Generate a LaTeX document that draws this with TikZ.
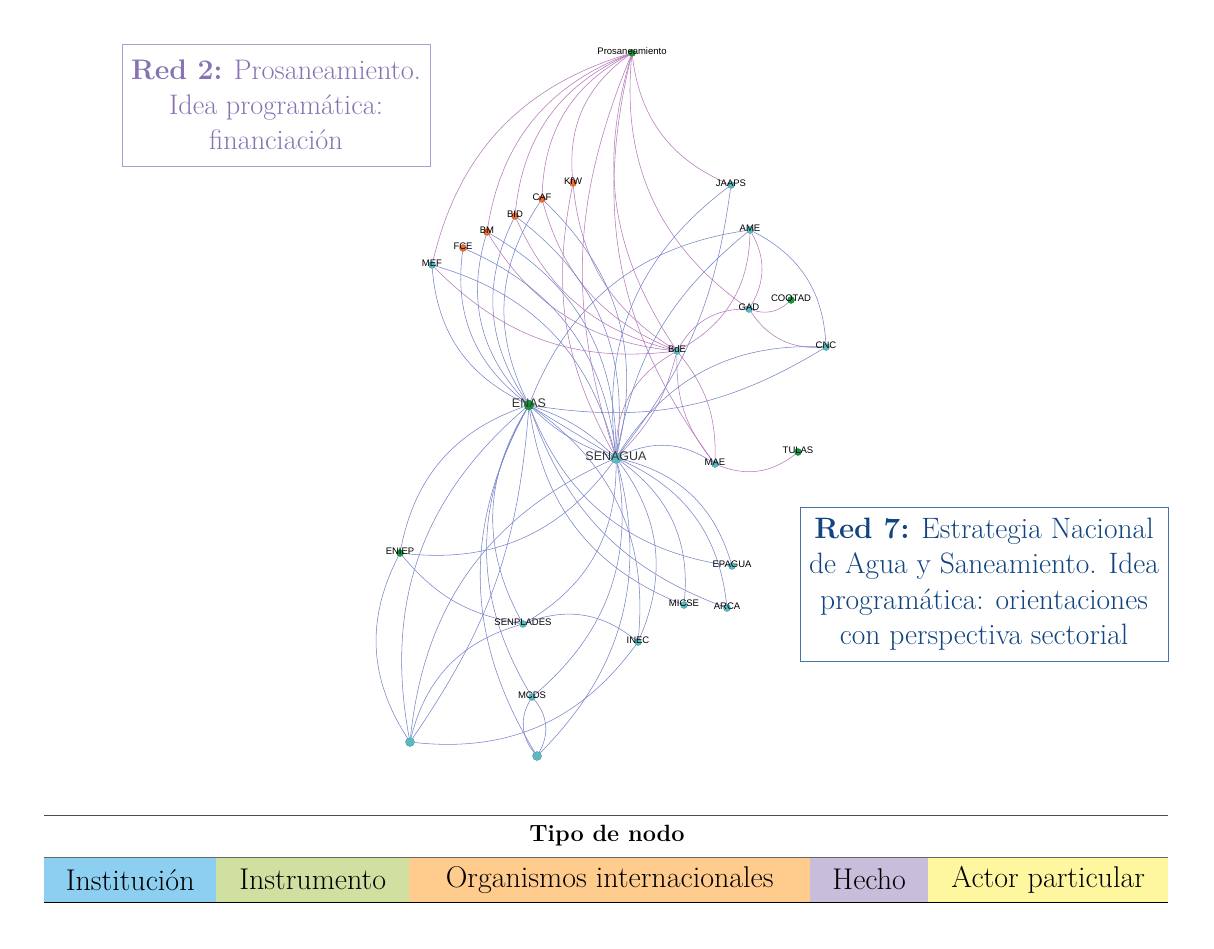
\documentclass[tikz,border=0pt]{standalone}
\usepackage{fontspec}
\newfontfamily\arialf{Liberation Sans}
\usetikzlibrary{backgrounds}
\definecolor{tealn}{RGB}{90,186,194}
\definecolor{greenn}{RGB}{22,150,62}
\definecolor{orangen}{RGB}{236,110,55}
\definecolor{edgeB}{RGB}{118,132,200}
\definecolor{edgeP}{RGB}{180,122,186}
\definecolor{boxP}{RGB}{170,158,208}
\definecolor{txtP}{RGB}{135,115,178}
\definecolor{boxB}{RGB}{72,115,165}
\definecolor{txtB}{RGB}{18,68,128}
\definecolor{legA}{RGB}{140,207,240}
\definecolor{legB}{RGB}{207,224,160}
\definecolor{legC}{RGB}{255,204,142}
\definecolor{legD}{RGB}{200,190,220}
\definecolor{legE}{RGB}{255,247,160}
\tikzset{
  nd/.style={circle, inner sep=0pt, minimum size=7pt, fill=#1, draw=#1!75!black, line width=0.3pt},
  ndbig/.style={nd=#1, minimum size=10pt},
  lab/.style={font=\arialf\fontsize{9.5}{10}\selectfont, text=black, inner sep=0pt, yshift=1.5pt},
  labbig/.style={font=\arialf\fontsize{12.5}{13}\selectfont, text=black!80, inner sep=0pt, yshift=2pt},
  eP/.style={draw=edgeP, line width=0.55pt, bend left=30},
  eB/.style={draw=edgeB, line width=0.55pt, bend left=30},
  redbox/.style={draw=#1, line width=0.8pt, align=center, inner sep=0pt,
     font=\fontsize{29.5}{35.5}\selectfont},
  legcell/.style={fill=#1, draw=none, inner sep=0pt, minimum height=45pt, anchor=north west},
  legtxt/.style={font=\fontsize{30}{32}\selectfont, inner sep=0pt},
  rule/.style={draw=black!70, line width=0.9pt}
}
\begin{document}
\begin{tikzpicture}[x=1pt,y=-1pt]
\useasboundingbox (0,0) rectangle (1214,949);

% ---------- nodes ----------
\node[nd=greenn, label={[lab]center:Prosaneamiento}] (P) at (632,53) {};
\node[nd=orangen, label={[lab]center:KfW}] (KfW) at (573,183) {};
\node[nd=orangen, label={[lab]center:CAF}] (CAF) at (542,199) {};
\node[nd=orangen, label={[lab]center:BID}] (BID) at (515,216) {};
\node[nd=orangen, label={[lab]center:BM}] (BM) at (487,232) {};
\node[nd=orangen, label={[lab]center:FCE}] (FCE) at (463,248) {};
\node[nd=tealn, label={[lab]center:MEF}] (MEF) at (432,265) {};
\node[nd=tealn, label={[lab]center:JAAPS}] (JAAPS) at (731,185) {};
\node[nd=tealn, label={[lab]center:AME}] (AME) at (750,230) {};
\node[nd=greenn, label={[lab]center:COOTAD}] (COOTAD) at (791,300) {};
\node[nd=tealn, label={[lab]center:GAD}] (GAD) at (749,309) {};
\node[nd=tealn, label={[lab]center:CNC}] (CNC) at (826,347) {};
\node[nd=tealn, label={[lab]center:BdE}] (BdE) at (677,351) {};
\node[ndbig=greenn, label={[labbig]center:ENAS}] (ENAS) at (529,405) {};
\node[ndbig=tealn, minimum size=11pt, label={[labbig]center:SENAGUA}] (SENAGUA) at (616,458) {};
\node[nd=tealn, label={[lab]center:MAE}] (MAE) at (715,464) {};
\node[nd=greenn, label={[lab]center:TULAS}] (TULAS) at (798,452) {};
\node[nd=greenn, label={[lab]center:ENIEP}] (ENIEP) at (400,553) {};
\node[nd=tealn, label={[lab]center:SENPLADES}] (SENPLADES) at (523,624) {};
\node[nd=tealn, label={[lab]center:MCDS}] (MCDS) at (532,697) {};
\node[nd=tealn, label={[lab]center:EPAGUA}] (EPAGUA) at (732,566) {};
\node[nd=tealn, label={[lab]center:MICSE}] (MICSE) at (684,605) {};
\node[nd=tealn, label={[lab]center:ARCA}] (ARCA) at (727,608) {};
\node[nd=tealn, label={[lab]center:INEC}] (INEC) at (638,642) {};
\node[ndbig=tealn, minimum size=9pt] (U1) at (410,742) {};
\node[ndbig=tealn, minimum size=9pt] (U2) at (537,756) {};

% ---------- edges ----------
\begin{scope}[on background layer]
% Red 2 (purple)
\draw[eP] (MEF) to (P);
\draw[eP] (BM) to (P);
\draw[eP] (BID) to (P);
\draw[eP] (CAF) to (P);
\draw[eP] (KfW) to (P);
\draw[eP] (JAAPS) to (P);
\draw[eP] (GAD) to (P);
\draw[eP, bend left=25] (BdE) to (P);
\draw[eP, bend left=25] (MAE) to (P);
\draw[eP, bend left=20] (SENAGUA) to (P);
\draw[eP, bend left=20] (SENAGUA) to (KfW);
\draw[eP, bend left=26] (BdE) to (MEF);
\draw[eP, bend left=26] (BdE) to (BM);
\draw[eP, bend left=26] (BdE) to (BID);
\draw[eP, bend left=26] (BdE) to (CAF);
\draw[eP, bend left=26] (BdE) to (KfW);
\draw[eP] (BdE) to (GAD);
\draw[eP] (AME) to (BdE);
\draw[eP] (AME) to (GAD);
\draw[eP] (COOTAD) to (GAD);
\draw[eP] (CNC) to (GAD);
\draw[eP, bend left=20] (BdE) to (MAE);
\draw[eP, bend left=20] (MAE) to (BdE);
\draw[eP] (TULAS) to (MAE);
\draw[eP] (SENAGUA) to (BdE);
\draw[eP, bend left=15] (BdE) to (SENAGUA);
% Red 7 (blue)
\draw[eB] (ENAS) to (MEF);
\draw[eB] (MEF) to (SENAGUA);
\draw[eB] (ENAS) to (FCE);
\draw[eB] (FCE) to (SENAGUA);
\draw[eB] (ENAS) to (BM);
\draw[eB] (BM) to (SENAGUA);
\draw[eB] (ENAS) to (BID);
\draw[eB] (BID) to (SENAGUA);
\draw[eB] (ENAS) to (CAF);
\draw[eB] (CAF) to (SENAGUA);
\draw[eB] (SENAGUA) to (JAAPS);
\draw[eB, bend left=15] (JAAPS) to (SENAGUA);
\draw[eB] (ENAS) to (AME);
\draw[eB, bend left=20] (SENAGUA) to (AME);
\draw[eB] (AME) to (CNC);
\draw[eB, bend left=20] (CNC) to (ENAS);
\draw[eB] (SENAGUA) to (CNC);
\draw[eB] (SENAGUA) to (MAE);
\draw[eB, bend left=12] (ENAS) to (SENAGUA);
\draw[eB, bend left=12] (SENAGUA) to (ENAS);
\draw[eB, bend left=0] (ENAS) to (SENAGUA);
\draw[eB] (ENIEP) to (ENAS);
\draw[eB] (SENAGUA) to (ENIEP);
\draw[eB, bend left=20] (SENPLADES) to (ENIEP);
\draw[eB] (U1) to (ENIEP);
\draw[eB] (U1) to (ENAS);
\draw[eB, bend left=15] (ENAS) to (U1);
\draw[eB] (U1) to (SENAGUA);
\draw[eB] (U1) to (SENPLADES);
\draw[eB] (INEC) to (U1);
\draw[eB, bend left=35] (U2) to (MCDS);
\draw[eB, bend left=35] (MCDS) to (U2);
\draw[eB] (U2) to (ENAS);
\draw[eB] (SENAGUA) to (U2);
\draw[eB] (SENAGUA) to (SENPLADES);
\draw[eB] (SENPLADES) to (ENAS);
\draw[eB] (SENPLADES) to (INEC);
\draw[eB] (SENAGUA) to (INEC);
\draw[eB] (ENAS) to (INEC);
\draw[eB] (MCDS) to (ENAS);
\draw[eB] (SENAGUA) to (MCDS);
\draw[eB] (EPAGUA) to (ENAS);
\draw[eB] (SENAGUA) to (EPAGUA);
\draw[eB] (MICSE) to (ENAS);
\draw[eB] (SENAGUA) to (MICSE);
\draw[eB, bend left=25] (ARCA) to (ENAS);
\draw[eB] (SENAGUA) to (ARCA);
\end{scope}

% ---------- title boxes ----------
\node[redbox=boxP, text=txtP, font=\fontsize{28.3}{35}\selectfont,
      minimum width=308pt, minimum height=122pt] (red2) at (276,105)
  {\textbf{Red 2:} Prosaneamiento.\\Idea programática:\\financiación};
\node[redbox=boxB, text=txtB, minimum width=368pt, minimum height=154pt] (red7) at (984,584)
  {\textbf{Red 7:} Estrategia Nacional\\de Agua y Saneamiento. Idea\\programática: orientaciones\\con perspectiva sectorial};

% ---------- legend ----------
\node[legcell=legA, minimum width=172pt] (lA) at (44,857) {};
\node[legcell=legB, minimum width=193pt] (lB) at (216,857) {};
\node[legcell=legC, minimum width=401pt] (lC) at (409,857) {};
\node[legcell=legD, minimum width=118pt] (lD) at (810,857) {};
\node[legcell=legE, minimum width=240pt] (lE) at (928,857) {};
\node[legtxt] (tA) at (lA.center) {Institución};
\node[legtxt] (tB) at (lB.center) {Instrumento};
\node[legtxt] (tC) at (lC.center) {Organismos internacionales};
\node[legtxt] (tD) at (lD.center) {Hecho};
\node[legtxt] (tE) at (lE.center) {Actor particular};
\node[font=\bfseries\fontsize{23.5}{28}\selectfont] (tipo) at (607,836) {Tipo de nodo};
\draw[rule] (44,815) -- (1168,815);
\draw[draw=black!60, line width=0.6pt] (44,857) -- (1168,857);
\draw[draw=black, line width=1pt] (44,902) -- (1168,902);
\end{tikzpicture}
\end{document}
